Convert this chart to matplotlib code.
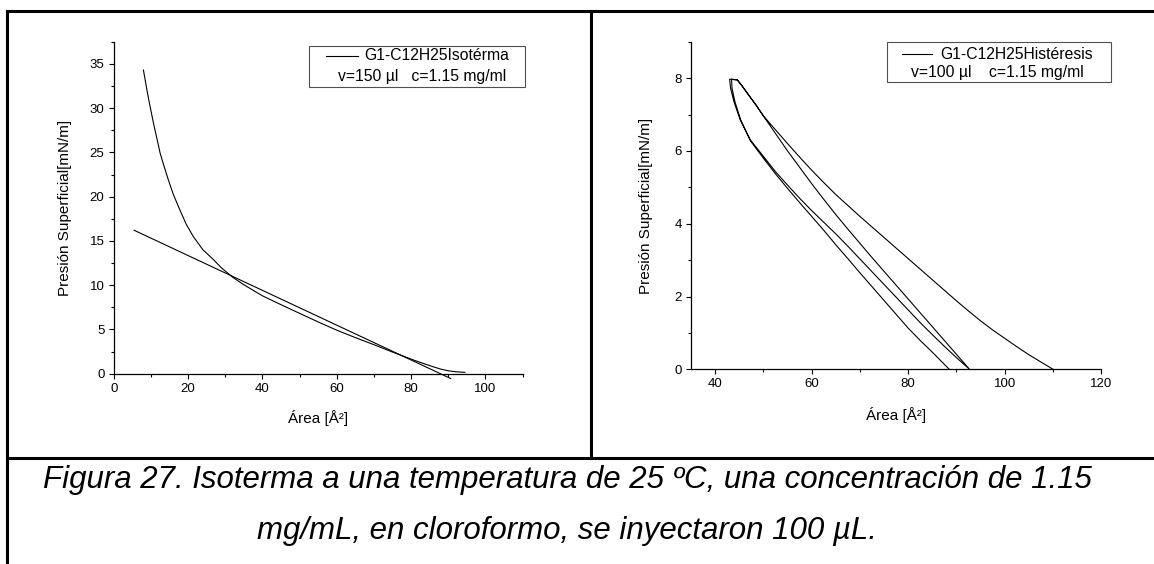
import matplotlib
matplotlib.use("Agg")
import matplotlib.pyplot as plt
from matplotlib.lines import Line2D
from matplotlib.patches import Rectangle
from matplotlib.ticker import MultipleLocator

plt.rcParams['font.family'] = ['Liberation Sans', 'DejaVu Sans']

# --- datos ---
# isoterma (panel izquierdo)
iso_area = [8.0, 8.5, 9.0, 9.5, 10.7, 11.5, 12.5, 13.5, 14.7, 16.0, 17.8,
            19.5, 21.4, 24.0, 26.8, 29.0, 32.0, 35.0, 40.0, 45.0, 50.0, 55.0,
            60.0, 65.0, 70.0, 75.0, 80.0, 83.0, 86.0, 88.0, 90.0, 92.0, 94.5]
iso_pres = [34.3, 33.1, 31.9, 30.8, 28.3, 26.8, 24.9, 23.5, 21.9, 20.3, 18.5,
            16.9, 15.5, 14.0, 12.9, 11.95, 10.9, 10.05, 8.8, 7.8, 6.82, 5.85,
            4.92, 4.08, 3.28, 2.45, 1.65, 1.2, 0.78, 0.52, 0.33, 0.22, 0.15]
# recta tangente
tan_area = [5.5, 90.7]
tan_pres = [16.2, -0.55]

# histeresis (panel derecho), en el orden del ciclo
comp1_area = [110, 107.5, 105, 102.5, 100, 97.5, 95, 92.5, 90, 87.5, 85,
              82.5, 80, 77.5, 75, 72.5, 70, 67.5, 65, 62.5, 60, 57.5, 55,
              52.5, 50, 48.5, 47, 45.5, 44.6, 43.0]
comp1_pres = [0, 0.2, 0.4, 0.62, 0.85, 1.08, 1.33, 1.6, 1.88, 2.17, 2.46,
              2.75, 3.04, 3.33, 3.62, 3.91, 4.2, 4.5, 4.8, 5.13, 5.47, 5.83,
              6.2, 6.58, 6.96, 7.26, 7.53, 7.8, 7.95, 7.97]
exp1_area = [43.0, 43.2, 43.9, 45.2, 47.3, 50, 52.5, 55, 57.5, 60, 62.5, 65,
             67.5, 70, 72.5, 75, 77.5, 80, 82.5, 85, 87.5, 90, 92.7]
exp1_pres = [7.97, 7.72, 7.35, 6.85, 6.3, 5.85, 5.43, 5.06, 4.7, 4.36, 4.04,
             3.72, 3.38, 3.03, 2.68, 2.33, 1.98, 1.63, 1.28, 0.95, 0.63, 0.32,
             0]
comp2_area = [92.7, 90, 87.5, 85, 82.5, 80, 77.5, 75, 72.5, 70, 67.5, 65,
              62.5, 60, 57.5, 55, 52.5, 50.1, 48.5, 47, 45.5, 44.6, 43.4]
comp2_pres = [0, 0.41, 0.79, 1.17, 1.55, 1.93, 2.31, 2.69, 3.07, 3.46, 3.85,
              4.25, 4.67, 5.1, 5.55, 6.0, 6.48, 6.94, 7.25, 7.52, 7.8, 7.95,
              7.97]
exp2_area = [43.4, 43.5, 44.1, 45.3, 47.3, 50, 52.5, 55, 57.5, 60, 62.5, 65,
             67.5, 70, 72.5, 75, 77.5, 80, 82.5, 85, 88.5]
exp2_pres = [7.97, 7.72, 7.35, 6.85, 6.28, 5.8, 5.37, 4.97, 4.58, 4.2, 3.82,
             3.42, 3.04, 2.65, 2.27, 1.89, 1.51, 1.13, 0.79, 0.47, 0]

hist_area = comp1_area + exp1_area + comp2_area + exp2_area
hist_pres = comp1_pres + exp1_pres + comp2_pres + exp2_pres

caption1 = "Figura 27. Isoterma a una temperatura de 25 ºC, una concentración de 1.15"
caption2 = "mg/mL, en cloroformo, se inyectaron 100 µL."

W, H = 1154, 564
fig = plt.figure(figsize=(W / 100, H / 100), dpi=100)


def px_axes(x0, y0, x1, y1):
    # caja en pixeles (origen arriba a la izquierda)
    return fig.add_axes([x0 / W, 1 - y1 / H, (x1 - x0) / W, (y1 - y0) / H])


def estilo(ax):
    ax.set_facecolor('none')
    ax.spines['top'].set_visible(False)
    ax.spines['right'].set_visible(False)
    for s in ('left', 'bottom'):
        ax.spines[s].set_linewidth(0.9)
    ax.tick_params(which='both', direction='out', width=0.8, labelsize=9.5,
                   pad=3)
    ax.tick_params(which='major', length=3.6)
    ax.tick_params(which='minor', length=2.2)


ax1 = px_axes(113.7, 41.7, 522.5, 373.7)
ax1.plot(iso_area, iso_pres, color='black', lw=0.8, clip_on=False)
ax1.plot(tan_area, tan_pres, color='black', lw=0.8, clip_on=False)
ax1.set_xlim(0, 110)
ax1.set_ylim(0, 37.5)
ax1.xaxis.set_major_locator(MultipleLocator(20))
ax1.xaxis.set_minor_locator(MultipleLocator(10))
ax1.yaxis.set_major_locator(MultipleLocator(5))
ax1.yaxis.set_minor_locator(MultipleLocator(2.5))
estilo(ax1)
ax1.set_xlabel("Área [Å²]", fontsize=11)
ax1.set_ylabel("Presión Superficial[mN/m]", fontsize=11)
ax1.xaxis.set_label_coords(0.5, -0.11)
ax1.yaxis.set_label_coords(-0.102, 0.5)

ax2 = px_axes(691.0, 41.7, 1101.3, 369.3)
ax2.plot(hist_area, hist_pres, color='black', lw=0.8, clip_on=False)
ax2.set_xlim(35, 120)
ax2.set_ylim(0, 9)
ax2.xaxis.set_major_locator(MultipleLocator(20))
ax2.xaxis.set_minor_locator(MultipleLocator(10))
ax2.yaxis.set_major_locator(MultipleLocator(2))
ax2.yaxis.set_minor_locator(MultipleLocator(1))
estilo(ax2)
ax2.set_xlabel("Área [Å²]", fontsize=11)
ax2.set_ylabel("Presión Superficial[mN/m]", fontsize=11)
ax2.xaxis.set_label_coords(0.5, -0.115)
ax2.yaxis.set_label_coords(-0.093, 0.5)

# capa superior: marco de tabla, leyendas y pie de figura (en pixeles)
ov = fig.add_axes([0, 0, 1, 1], zorder=5)
ov.set_xlim(0, W)
ov.set_ylim(H, 0)
ov.axis('off')
ov.patch.set_alpha(0)

marco = dict(color='black', lw=2.2, solid_capstyle='projecting')
ov.add_line(Line2D([7, W], [11, 11], **marco))
ov.add_line(Line2D([7, 7], [11, H], **marco))
ov.add_line(Line2D([591, 591], [11, 458], **marco))
ov.add_line(Line2D([7, W], [458, 458], **marco))


def leyenda(bx0, by0, bx1, by1, lx0, lx1, ly, t1, t2x, t2y, texto1, texto2):
    ov.add_patch(Rectangle((bx0, by0), bx1 - bx0, by1 - by0, facecolor='white',
                           edgecolor='#505050', lw=0.8))
    ov.add_line(Line2D([lx0, lx1], [ly, ly], color='black', lw=0.8))
    ov.text(t1, ly, texto1, fontsize=11.3, ha='left', va='center')
    ov.text(t2x, t2y, texto2, fontsize=11.3, ha='center', va='center')


leyenda(309.3, 46, 525, 86.7, 326, 358, 56, 364, 421.8, 76.7,
        "G1-C12H25Isotérma", "v=150 µl   c=1.15 mg/ml")
leyenda(886.8, 42.3, 1111, 81.7, 902, 932, 54.3, 940, 997.6, 72.7,
        "G1-C12H25Histéresis", "v=100 µl    c=1.15 mg/ml")

ov.text(567, 480, caption1, fontsize=22.5, style='italic', ha='center',
        va='center')
ov.text(567, 531, caption2, fontsize=22.5, style='italic', ha='center',
        va='center')

fig.savefig('out.png', dpi=100)
